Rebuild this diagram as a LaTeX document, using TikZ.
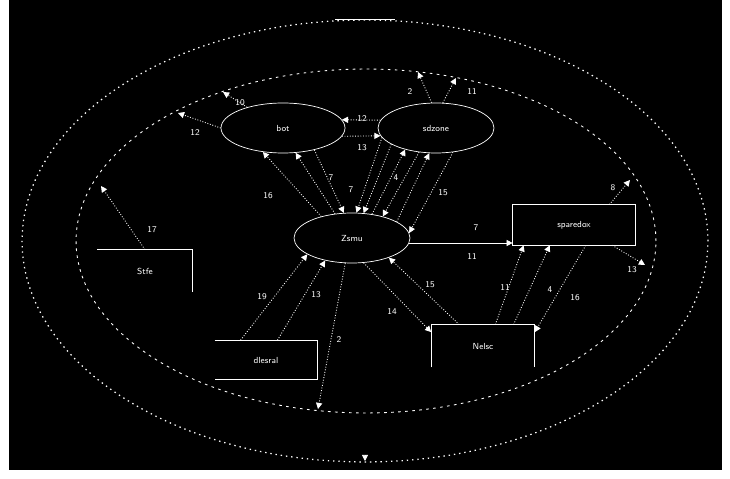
\documentclass[tikz,border=0pt]{standalone}
\usetikzlibrary{arrows.meta, shapes.geometric, positioning}

\begin{document}
\begin{tikzpicture}[x=0.02cm, y=-0.02cm,
  proc/.style={draw=white, ellipse, minimum width=#1, minimum height=1cm, inner sep=0pt, text=white, font=\sffamily\fontsize{5}{6}\selectfont},
  bound/.style={draw=white, ellipse, inner sep=0pt, line width=0.5pt},
  store/.style={inner sep=0pt, text=white, font=\sffamily\fontsize{5}{6}\selectfont},
  flow/.style={draw=white, densely dotted, line width=0.5pt, -{Triangle[width=3.5pt,length=3.5pt]}},
  lbl/.style={text=white, inner sep=0pt, font=\sffamily\fontsize{5}{6}\selectfont}]
\useasboundingbox (0,0) rectangle (730,479);
\fill[white] (0,0) rectangle (730,479);
\fill[black] (9,0) rectangle (722,470);

% outer and inner boundaries
\node[bound, dash pattern=on 0.8pt off 2.2pt, line width=0.7pt, minimum width=13.72cm, minimum height=8.84cm] (outer) at (365,241) {};
\draw[white, line width=0.5pt] (outer.north) ++(-30,0) -- ++(60,0);
\node[bound, dash pattern=on 1.5pt off 2.5pt, minimum width=11.6cm, minimum height=6.88cm] (inner) at (366,241) {};

\node[proc=2.48cm] (bot) at (283,128) {bot};
\node[proc=2.32cm] (sdz) at (436,128) {sdzone};
\node[proc=2.32cm] (zsmu) at (352,238) {Zsmu};
\node[store, minimum width=2.44cm, minimum height=0.8cm] (spar) at (574,225) {sparedox};
\node[store, minimum width=1.9cm, minimum height=0.84cm] (stfe) at (145,271) {Stfe};
\node[store, minimum width=2.04cm, minimum height=0.78cm] (dles) at (266,360) {dlesral};
\node[store, minimum width=2.06cm, minimum height=0.84cm] (nels) at (483,346) {Nelsc};

\draw[white, line width=0.5pt] (spar.north west) rectangle (spar.south east);
\draw[white, line width=0.5pt] (stfe.north west) -- (stfe.north east) -- (stfe.south east);
\draw[white, line width=0.5pt] (dles.north west) -- (dles.north east) -- (dles.south east) -- (dles.south west);
\draw[white, line width=0.5pt] (nels.south west) -- (nels.north west) -- (nels.north east) -- (nels.south east);

% free ends on the boundary
\coordinate (c1) at (178,113);
\coordinate (c2) at (223,92);
\coordinate (c3) at (418,72);
\coordinate (c4) at (456,78);
\coordinate (c5) at (630,180);
\coordinate (c6) at (645,265);
\coordinate (c7) at (318,409);
\coordinate (c8) at (101,186);
\coordinate (c9s) at (365,455);
\coordinate (c9) at (365,461);

\draw[flow] (bot.west) -- (c1);
\draw[flow] (bot.150) -- (c2);
\draw[flow] (sdz.172) -- (bot.8);
\draw[flow] (bot.-8) -- (sdz.-172);
\draw[flow] (sdz.100) -- (c3);
\draw[flow] (sdz.75) -- (c4);
\draw[flow] (zsmu.145) -- (bot.-130);
\draw[flow] (zsmu.125) -- (bot.-63);
\draw[flow] (bot.-35) -- (zsmu.108);
\draw[flow] (sdz.190) -- (zsmu.80);
\draw[flow] (sdz.200) -- (zsmu.65);
\draw[flow] (zsmu.50) -- (sdz.215);
\draw[flow] (sdz.235) -- (zsmu.35);
\draw[flow] (zsmu.20) -- (sdz.255);
\draw[flow] (sdz.-55) -- (zsmu.5);
\draw[flow, solid] (zsmu.-5) -- (zsmu.-5 -| spar.west);
\draw[flow] (spar.30) -- (c5);
\draw[flow] (spar.-28) -- (c6);
\draw[flow] (nels.60) -- (spar.-158);
\draw[flow] (nels.35) -- (spar.-140);
\draw[flow] (spar.-60) -- (nels.15);
\draw[flow] (nels.138) -- (zsmu.-28);
\draw[flow] (zsmu.-65) -- (nels.165);
\draw[flow] (dles.142) -- (zsmu.-160);
\draw[flow] (dles.60) -- (zsmu.-140);
\draw[flow] (zsmu.-105) -- (c7);
\draw[flow] (stfe.north) -- (c8);
\draw[flow, solid] (c9s) -- (c9);

% flow numbers
\node[lbl] (l1) at (195,133) {12};
\node[lbl] (l2) at (240,103) {10};
\node[lbl] (l3) at (362,119) {12};
\node[lbl] (l4) at (362,148) {13};
\node[lbl] (l5) at (410,92) {2};
\node[lbl] (l6) at (472,92) {11};
\node[lbl] (l7) at (268,196) {16};
\node[lbl] (l8) at (331,178) {7};
\node[lbl] (l9) at (351,190) {7};
\node[lbl] (l10) at (396,178) {4};
\node[lbl] (l11) at (443,193) {15};
\node[lbl] (l12) at (476,228) {7};
\node[lbl] (l13) at (472,257) {11};
\node[lbl] (l14) at (613,188) {8};
\node[lbl] (l15) at (632,270) {13};
\node[lbl] (l16) at (505,288) {11};
\node[lbl] (l17) at (550,290) {4};
\node[lbl] (l18) at (575,298) {16};
\node[lbl] (l19) at (430,285) {15};
\node[lbl] (l20) at (392,312) {14};
\node[lbl] (l21) at (262,297) {19};
\node[lbl] (l22) at (316,295) {13};
\node[lbl] (l23) at (339,340) {2};
\node[lbl] (l24) at (152,230) {17};
\end{tikzpicture}
\end{document}
